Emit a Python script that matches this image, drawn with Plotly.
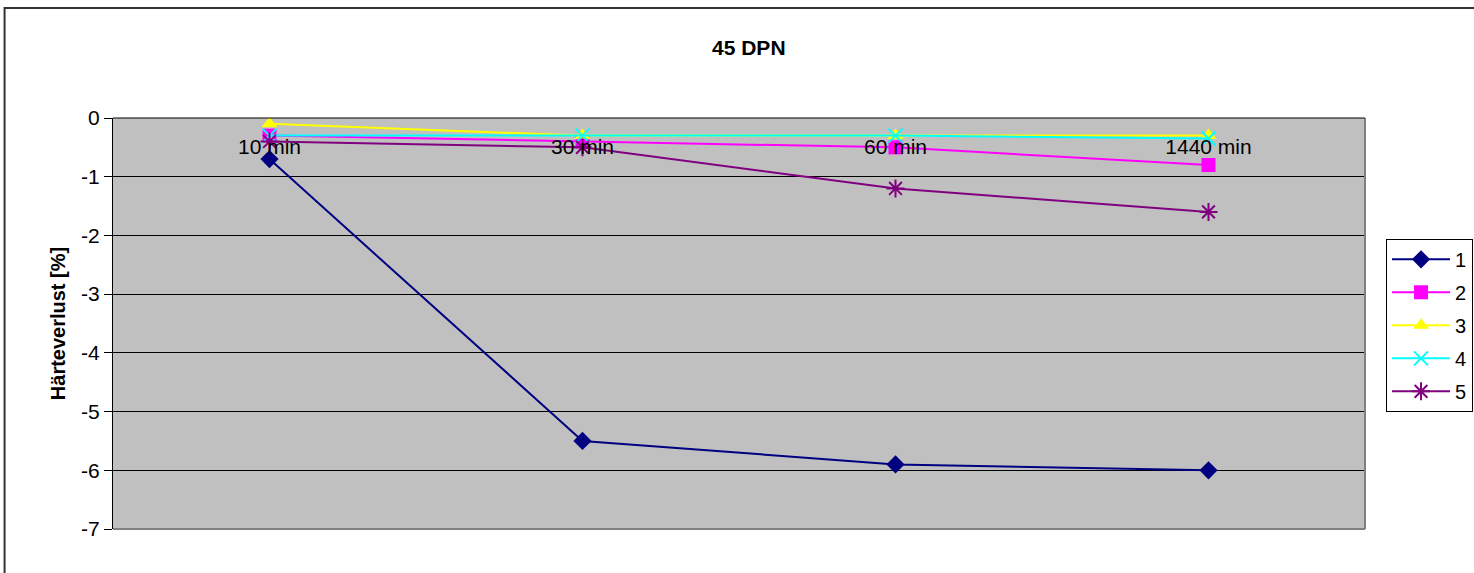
import plotly.graph_objects as go

# Measurement times (categories) and hardness loss per sample series
times = ["10 min", "30 min", "60 min", "1440 min"]
series_names = ["1", "2", "3", "4", "5"]
s1 = [-0.7, -5.5, -5.9, -6.0]
s2 = [-0.3, -0.4, -0.5, -0.8]
s3 = [-0.1, -0.3, -0.3, -0.3]
s4 = [-0.3, -0.3, -0.3, -0.35]
s5 = [-0.4, -0.5, -1.2, -1.6]
y_ticks = [0, -1, -2, -3, -4, -5, -6, -7]

styles = [
    dict(color="#000080", symbol="diamond", size=14),
    dict(color="#FF00FF", symbol="square", size=14),
    dict(color="#FFFF00", symbol="triangle-up", size=14),
    dict(color="#00FFFF", symbol="x-thin", size=14),
    dict(color="#800080", symbol="asterisk", size=15),
]

fig = go.Figure()
for name, vals, st in zip(series_names, [s1, s2, s3, s4, s5], styles):
    open_sym = st["symbol"] in ("x-thin", "asterisk")
    fig.add_trace(go.Scatter(
        x=times, y=vals, name=name, mode="lines+markers",
        legendgroup=name,
        line=dict(color=st["color"], width=2),
        marker=dict(symbol=st["symbol"], size=st["size"], color=st["color"],
                    line=dict(color=st["color"], width=2 if open_sym else 0)),
    ))

font = "Liberation Sans, Arial, sans-serif"

fig.update_layout(
    width=1474, height=573,
    margin=dict(l=113, r=109, t=118, b=44, autoexpand=False),
    paper_bgcolor="white",
    plot_bgcolor="#C0C0C0",
    font=dict(family=font, size=20, color="black"),
    title=dict(text="<b>45 DPN</b>", x=0.508, xanchor="center", y=0.916,
               yanchor="middle", font=dict(size=21, family=font)),
    showlegend=True,
    legend=dict(x=1.0168, xanchor="left", y=0.706, yanchor="top",
                bordercolor="black", borderwidth=1, bgcolor="white",
                font=dict(size=20, family=font), tracegroupgap=4,
                itemwidth=58),
    xaxis=dict(
        type="category", categoryorder="array", categoryarray=times,
        anchor="free", position=1, side="bottom",
        showgrid=False, showline=False, zeroline=False, ticks="",
        ticklabelstandoff=14,
        tickfont=dict(size=21, family=font), range=[-0.5, 3.5],
    ),
    yaxis=dict(
        range=[-7, 0], tickvals=y_ticks, ticktext=[str(v) for v in y_ticks],
        showgrid=True, gridcolor="black", gridwidth=1,
        zeroline=False, showline=True, linecolor="black", linewidth=1,
        ticks="outside", ticklen=8, tickcolor="black",
        title=dict(text="<b>Härteverlust [%]</b>", font=dict(size=20, family=font),
                   standoff=10),
        tickfont=dict(size=21, family=font),
    ),
    shapes=[
        # outer chart frame
        dict(type="rect", xref="paper", yref="paper",
             x0=-0.0866, x1=1.4, y0=-0.3, y1=1.2679,
             line=dict(color="#333333", width=2), layer="below"),
        # plot area border (gray shadow on right / bottom, black top)
        dict(type="line", xref="paper", yref="paper", x0=1, x1=1, y0=0, y1=1,
             line=dict(color="#808080", width=2)),
        dict(type="line", xref="paper", yref="paper", x0=0, x1=1, y0=0, y1=0,
             line=dict(color="#808080", width=2)),
        dict(type="line", xref="paper", yref="paper", x0=0, x1=1, y0=1, y1=1,
             line=dict(color="black", width=1)),
    ],
)

fig.write_html("out.html")
